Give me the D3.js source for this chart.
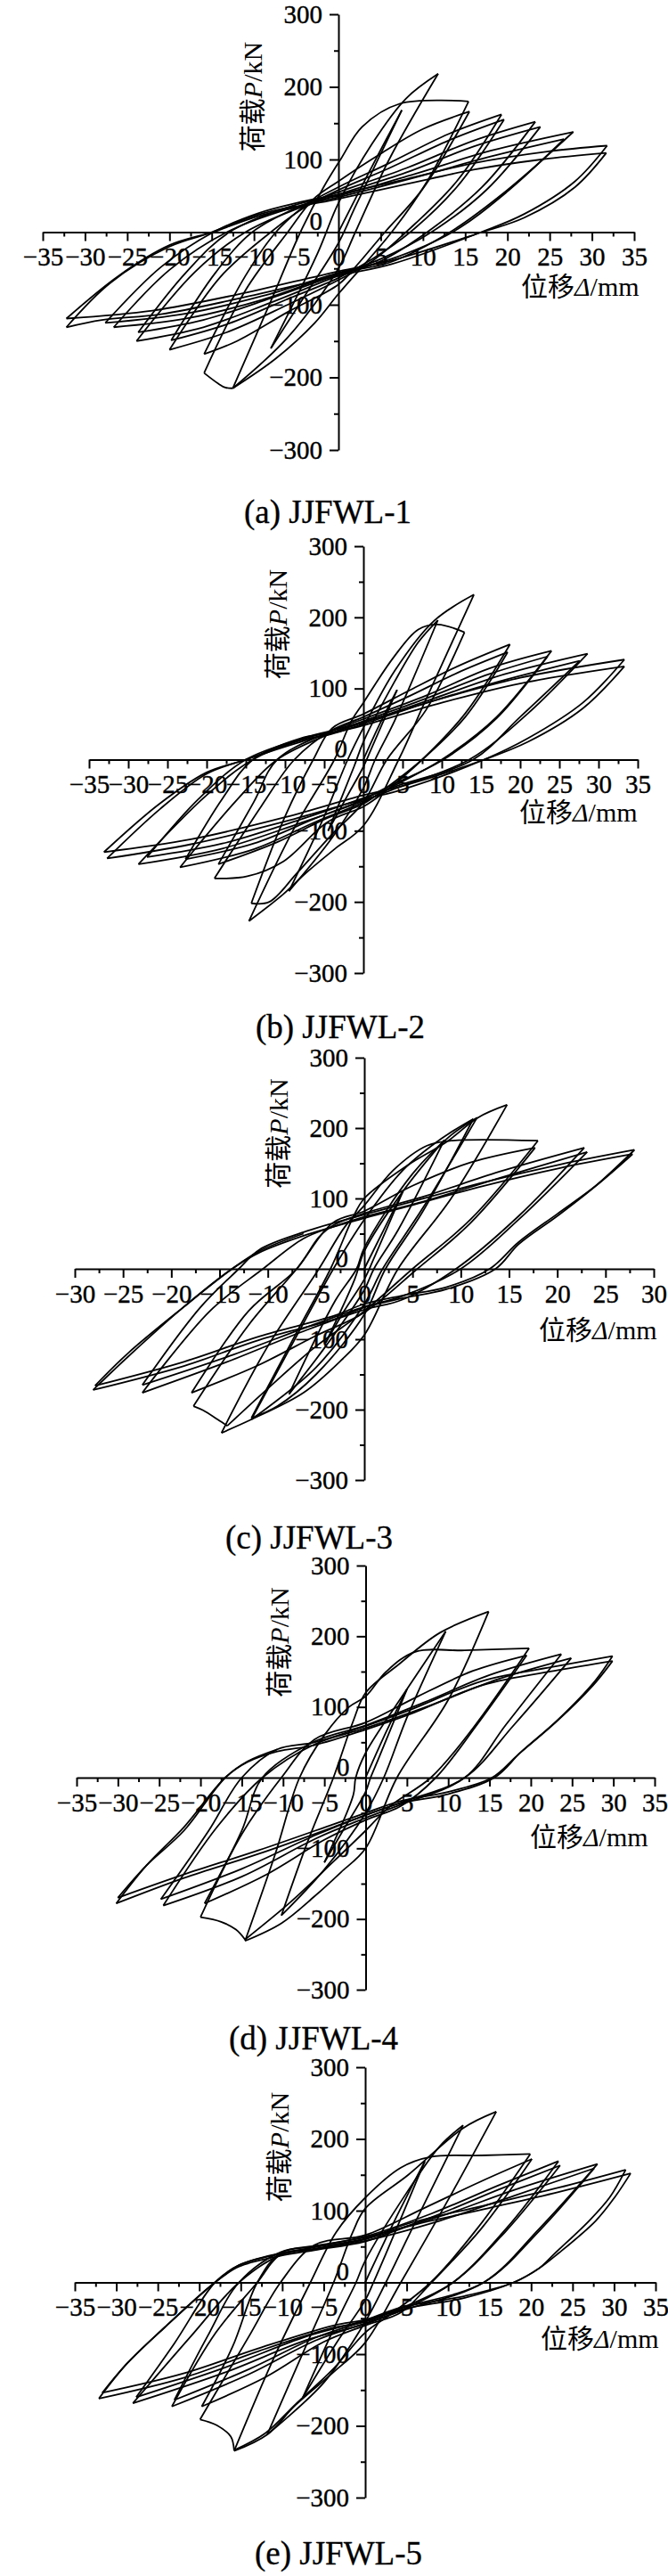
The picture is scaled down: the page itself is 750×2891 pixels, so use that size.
<!DOCTYPE html>
<html>
<head>
<meta charset="utf-8">
<script src="https://d3js.org/d3.v7.min.js"></script>
<style>
  body { margin: 0; background: #fff; }
  svg { font-family: 'Liberation Serif', 'Times New Roman', 'Noto Sans CJK SC', serif; }
  .loop { fill: none; stroke: #000; stroke-width: 1.8px; stroke-linejoin: round; }
  .axis path, .axis line { stroke: #000; stroke-width: 2px; }
  .axis text { font-family: 'Liberation Serif', serif; font-size: 29px; fill: #000; stroke: #000; stroke-width: 0.4px; }
  .ttl { font-size: 30px; fill: #000; }
  .cap { font-size: 37px; fill: #000; stroke: #000; stroke-width: 0.3px; }
</style>
</head>
<body>
<svg width="750" height="2891"></svg>
<script>
// tick values
const yTicks = [-300, -200, -100, 0, 100, 200, 300];
const yMinor = [-250, -150, -50, 50, 150, 250];
const xTicks35 = [-35, -30, -25, -20, -15, -10, -5, 0, 5, 10, 15, 20, 25, 30, 35];
const xMinor35 = [-32.5, -27.5, -22.5, -17.5, -12.5, -7.5, -2.5, 2.5, 7.5, 12.5, 17.5, 22.5, 27.5, 32.5];
const xTicks30 = [-30, -25, -20, -15, -10, -5, 0, 5, 10, 15, 20, 25, 30];
const xMinor30 = [-27.5, -22.5, -17.5, -12.5, -7.5, -2.5, 2.5, 7.5, 12.5, 17.5, 22.5, 27.5];
const captions = ["(a) JJFWL-1", "(b) JJFWL-2", "(c) JJFWL-3", "(d) JJFWL-4", "(e) JJFWL-5"];

// hysteresis branches [displacement mm, load kN], peak to peak
const loopsA = [
  [[0,0],[3.5,80],[7.5,168]],
  [[7.5,168],[2,35],[0,-15],[-4,-88],[-8,-160]],
  [[-8,-160],[-2.5,-30],[0,40],[4,122],[8,184],[11.8,218]],
  [[11.8,218],[6,100],[2,0],[0,-50],[-6,-145],[-12.5,-215]],
  [[-12.5,-215],[-8,-95],[-4.5,0],[-1.8,61],[0.3,101],[2.8,145],[7.3,177],[15.4,180]],
  [[15.4,180],[10.5,70],[6.3,0],[0,-85],[-2.8,-125],[-7.4,-174],[-12.5,-215]],
  [[-12.5,-215],[-13.4,-214],[-14.3,-208],[-15.9,-194]],
  [[-15.9,-194],[-11,-80],[-6,0],[-3,45],[0,70],[5,108],[10,142],[15.5,166]],
  [[15.5,166],[10,60],[5.5,0],[2,-48],[0,-72],[-6,-110],[-12,-150],[-15.9,-168]],
  [[-15.9,-168],[-11,-60],[-7.4,0],[-4,36],[0,62],[6,95],[13,135],[19.3,162]],
  [[19.3,162],[14,70],[8,0],[4,-40],[0,-66],[-6,-100],[-13,-137],[-20,-162]],
  [[-20,-162],[-14,-62],[-8,0],[-4,34],[0,58],[6,88],[13,126],[19.6,155]],
  [[19.6,155],[14,62],[8.5,0],[4,-37],[0,-63],[-6,-92],[-13,-126],[-19.8,-149]],
  [[-19.8,-149],[-14.5,-55],[-10.2,0],[-4.5,36],[0,55],[8,88],[16,126],[23.3,152]],
  [[23.3,152],[17,62],[10.5,0],[5,-40],[0,-60],[-8,-97],[-16,-131],[-23.9,-150]],
  [[-23.9,-150],[-17,-55],[-11,0],[-4.5,34],[0,52],[8,82],[16,118],[23.9,145]],
  [[23.9,145],[17.5,58],[11,0],[5,-37],[0,-58],[-8,-91],[-16,-121],[-23.7,-138]],
  [[-23.7,-138],[-18,-55],[-12.9,0],[-5,38],[0,50],[9,80],[18,112],[27.8,138]],
  [[27.8,138],[20,58],[13.2,0],[6,-42],[0,-57],[-9,-93],[-18,-119],[-26.6,-131]],
  [[-26.6,-131],[-20,-52],[-13.2,0],[-5,35],[0,48],[9,75],[18,104],[26.7,128]],
  [[26.7,128],[20,56],[13.5,0],[6,-38],[0,-56],[-9,-88],[-18,-112],[-27.6,-125]],
  [[-27.6,-125],[-21,-48],[-14.8,0],[-9.5,26],[-5,40],[0,52],[8,73],[16,95],[24.7,111],[31.8,119]],
  [[31.8,119],[28,70],[22,25],[16.9,0],[6.3,-44],[0,-60],[-12,-92],[-21,-113],[-28,-121],[-32.2,-131]],
  [[-32.2,-131],[-27,-70],[-20,-20],[-14.8,0],[-9.5,22],[-5,34],[0,46],[8,66],[16,86],[24,100],[31.7,109]],
  [[31.7,109],[28,62],[22,20],[17,0],[6,-40],[0,-54],[-12,-86],[-22,-108],[-32.2,-119]],
  [[-32.2,-119],[-26,-60],[-20,-18],[-15,0],[-9.5,24],[-5,36]]
];

const loopsB = [
  [[0,0],[2,48],[4.3,98]],
  [[4.3,98],[1,15],[0,-10],[-2,-50],[-4.5,-100]],
  [[-4.5,-100],[-1.2,-10],[0,25],[4,110],[7,165],[9.5,196]],
  [[9.5,196],[4,55],[1.5,0],[0,-40],[-4,-110],[-9.5,-185]],
  [[-9.5,-185],[-5,-80],[-2,0],[0,45],[4,125],[9,195],[14.1,232]],
  [[14.1,232],[8,85],[4.5,0],[0,-93],[-3.7,-126],[-7.4,-160],[-10.2,-189],[-14.6,-227]],
  [[-14.6,-227],[-9,-100],[-3.7,0],[-1.5,55],[0,80],[3.8,143],[7,183],[9.5,190],[12.9,179]],
  [[12.9,179],[8,70],[3,0],[0,-60],[-4,-105],[-8.5,-160],[-12,-200],[-14.3,-202]],
  [[-14.3,-202],[-10,-80],[-6.4,0],[-4,44],[0,64],[6,98],[12,131],[18.7,162]],
  [[18.7,162],[13,65],[7.5,0],[2.4,-48],[0,-66],[-4.6,-88],[-10.2,-143],[-14.8,-164],[-19,-167]],
  [[-19,-167],[-13,-65],[-8.8,0],[-4.1,41],[0,60],[6,90],[12,122],[18.4,151]],
  [[18.4,151],[13,60],[7.5,0],[2.4,-44],[0,-62],[-5,-84],[-11,-116],[-18.5,-147]],
  [[-18.5,-147],[-14,-60],[-11,0],[-4.1,40],[0,57],[8,90],[16,128],[24,153]],
  [[24,153],[17,60],[10,0],[3,-42],[0,-60],[-6,-87],[-14,-126],[-23.4,-151.5]],
  [[-23.4,-151.5],[-16,-55],[-11,0],[-4.1,37],[0,54],[8,86],[16,120],[23.5,145]],
  [[23.5,145],[17,58],[10.2,0],[3,-39],[0,-56],[-6,-82],[-14,-118],[-22.7,-140]],
  [[-22.7,-140],[-18,-55],[-14.1,0],[-8,30],[-4.1,38],[0,52],[9,86],[18,120],[28.6,149]],
  [[28.6,149],[21,65],[13.5,0],[4,-41],[0,-58],[-8,-89],[-18,-125],[-28.7,-147]],
  [[-28.7,-147],[-20,-50],[-14.1,0],[-8,27],[-4.1,36],[0,50],[9,83],[18,112],[27.6,139]],
  [[27.6,139],[20,60],[14,0],[4,-38],[0,-54],[-8,-84],[-18,-118],[-27.6,-137]],
  [[-27.6,-137],[-21,-55],[-15,0],[-8,29],[-4,41],[0,53],[10,86],[20,115],[33.3,140.6]],
  [[33.3,140.6],[28,80],[21,30],[15.4,0],[5,-42],[0,-56],[-10,-87],[-22,-119],[-32.7,-139]],
  [[-32.7,-139],[-26,-70],[-20,-20],[-15,0],[-8,25],[-4,37],[0,48],[10,80],[20,107],[33.3,131]],
  [[33.3,131],[28,72],[21,25],[15.4,0],[5,-37],[0,-50],[-10,-81],[-22,-112],[-33.1,-130]],
  [[-33.1,-130],[-26,-62],[-20,-18],[-15,0],[-8,28],[-4,40]]
];

const loopsC = [
  [[0,0],[2,55],[4,110]],
  [[4,110],[1,15],[0,-15],[-2,-58],[-4,-105]],
  [[-4,-105],[-1,-15],[0,25],[4,110],[8.3,183]],
  [[8.3,183],[3.5,55],[1,0],[0,-30],[-4,-110],[-7.8,-178]],
  [[-7.8,-178],[-3,-45],[-0.8,0],[0,30],[5,135],[9,190],[11.7,215]],
  [[11.7,215],[6,85],[1.9,0],[0,-50],[-5,-140],[-11.7,-214]],
  [[-11.7,-214],[-7,-95],[-3.2,0],[0,70],[4,140],[8,185],[11.3,213]],
  [[11.3,213],[6,80],[2.2,0],[0,-65],[-5,-150],[-9,-195],[-11.7,-212]],
  [[-11.7,-212],[-7,-90],[-3.5,0],[-1.1,75],[0,100],[4.6,148],[8.5,180],[11.8,215],[14.8,233]],
  [[14.8,233],[9,100],[3.5,0],[0,-94],[-2.4,-130],[-6.3,-176],[-11.7,-214],[-14.8,-233]],
  [[-14.8,-233],[-10,-110],[-4.7,0],[-2,60],[0,90],[3,140],[6.5,175],[9,182],[18,182]],
  [[18,182],[11,70],[5,0],[0,-60],[-5,-110],[-10,-170],[-14.2,-223]],
  [[-14.2,-223],[-15.2,-214],[-16.7,-201],[-17.7,-195]],
  [[-17.7,-195],[-12,-80],[-7,0],[-3.2,66],[0,82],[5,118],[11,151],[17.7,172]],
  [[17.7,172],[11,65],[5.5,0],[0,-62],[-5,-95],[-11,-137],[-17.9,-176]],
  [[-17.9,-176],[-12,-60],[-7,0],[-4.7,45],[-3.2,62],[0,79],[6,102],[14,138],[22.8,172]],
  [[22.8,172],[16,75],[9.5,0],[3.9,-44],[0,-58],[-6,-87],[-14,-131],[-23,-176]],
  [[-23,-176],[-16,-60],[-10.5,0],[-6.3,43],[-3.2,60],[0,74],[6,95],[14,129],[23.1,166]],
  [[23.1,166],[16,70],[10,0],[3.9,-39],[0,-54],[-6,-83],[-14,-124],[-23,-165]],
  [[-23,-165],[-17,-55],[-13,0],[-10.9,27],[-6.3,52],[0,77],[4.6,94],[12.4,123],[20.2,148],[28,169]],
  [[28,169],[24,118],[20,75],[16,35],[13.6,0],[8.5,-29],[3.9,-42],[0,-55],[-3.2,-72],[-10.9,-101],[-18.7,-138],[-28.1,-172]],
  [[-28.1,-172],[-24.5,-125],[-18.7,-54],[-13.7,0],[-10.9,23],[-6.3,47],[0,72],[4.6,89],[12.4,118],[20.2,143],[27.8,163]],
  [[27.8,163],[24,118],[20,78],[16,38],[13,0],[8.5,-26],[3.9,-38],[0,-50],[-3.2,-67],[-10.9,-96],[-18.7,-132],[-27.9,-166]],
  [[-27.9,-166],[-24.5,-120],[-18.7,-54],[-13.7,0],[-10.9,25],[-6.3,50]]
];

const loopsD = [
  [[0,0],[2.5,65],[5,125]],
  [[5,125],[1.5,25],[0.6,0],[0,-20],[-2.5,-70],[-5,-120]],
  [[-5,-120],[-1.5,-25],[-1.2,0],[0,35],[5,125],[9.7,207]],
  [[9.7,207],[5,85],[2.2,0],[0,-50],[-5,-130],[-10.2,-195]],
  [[-10.2,-195],[-7,-90],[-3.9,0],[-1.5,80],[0,120],[4,160],[9,205],[14.9,235]],
  [[14.9,235],[10,110],[3.8,0],[0,-100],[-3,-134],[-6.2,-168],[-10.2,-206],[-14.6,-231]],
  [[-14.6,-231],[-11,-110],[-8,0],[-5,60],[-2,100],[0,115],[2.5,150],[6,178],[12,180],[19.8,183]],
  [[19.8,183],[13,70],[7.9,0],[3,-40],[0,-75],[-4,-120],[-9,-175],[-14.6,-229]],
  [[-14.6,-229],[-15.7,-215],[-17.5,-204],[-20,-197.5]],
  [[-20,-197.5],[-15,-80],[-10.2,0],[-6.2,54],[0,78],[6,113],[13,151],[19.5,173]],
  [[19.5,173],[13.5,75],[8.5,0],[4.3,-40],[0,-60],[-5,-88],[-12,-137],[-19.5,-178]],
  [[-19.5,-178],[-15,-75],[-12.5,0],[-6.2,51],[0,74],[7,106],[15,145],[23.7,174.6]],
  [[23.7,174.6],[17,75],[12,0],[4.3,-38],[0,-57],[-6,-86],[-15,-140],[-24.5,-181]],
  [[-24.5,-181],[-18,-70],[-12.5,0],[-6.2,47],[0,70],[8,103],[16,139],[24.9,169]],
  [[24.9,169],[18,75],[12,0],[4.3,-35],[0,-53],[-6,-81],[-15,-129],[-24.8,-172]],
  [[-24.8,-172],[-19,-75],[-15,0],[-10.7,40],[-6.2,50],[0,73],[5.2,95],[14.2,137],[23.3,158],[29.9,172]],
  [[29.9,172],[27.8,137],[23.3,82],[18.8,36],[15.6,0],[9.7,-24],[4.3,-36],[0,-53],[-3.9,-70],[-13,-108],[-22,-142],[-30.2,-178]],
  [[-30.2,-178],[-26.6,-125],[-22,-70],[-17,0],[-14.3,22],[-10.7,37],[-6.2,46],[0,68],[5.2,89],[14.2,131],[23.3,152],[29.9,165]],
  [[29.9,165],[27.5,130],[23,78],[18.5,33],[15.3,0],[9.7,-21],[4.3,-33],[0,-50],[-3.9,-66],[-13,-103],[-22,-137],[-30,-170]],
  [[-30,-170],[-26.6,-125],[-22,-75],[-17,0],[-14.3,23],[-10.7,40]]
];

const loopsE = [
  [[0,0],[3.5,85],[7.2,169]],
  [[7.2,169],[2.5,40],[1,0],[0,-25],[-3.5,-85],[-7.5,-160]],
  [[-7.5,-160],[-3,-45],[-1.1,0],[0,30],[5,125],[9,190],[11.8,219]],
  [[11.8,219],[6.5,95],[2.5,0],[0,-55],[-5,-140],[-11.8,-212]],
  [[-11.8,-212],[-7,-85],[-3.8,0],[-1.5,70],[0,103],[5.2,150],[11.8,215],[15.8,238]],
  [[15.8,238],[10,115],[4.3,0],[0,-84],[-3.8,-125],[-8.4,-171],[-11.8,-212],[-15.8,-235]],
  [[-15.8,-235],[-11,-105],[-6.6,0],[-3.5,70],[0,118],[4.3,160],[7.9,175],[14,177],[19.9,179]],
  [[19.9,179],[13.5,75],[7.9,0],[3,-45],[0,-70],[-3.8,-120],[-8.4,-170],[-12,-210],[-15.8,-234]],
  [[-15.8,-234],[-16.2,-215],[-17.9,-199],[-19.9,-191]],
  [[-19.9,-191],[-14,-75],[-10.2,0],[-6.1,52],[0,66],[7,103],[14,141],[20.1,172]],
  [[20.1,172],[14,75],[8,0],[4.3,-42],[0,-60],[-5,-83],[-12,-132],[-19.7,-173]],
  [[-19.7,-173],[-16,-90],[-13,0],[-10.2,41],[-6.1,50],[0,64],[8,96],[16,135],[23.3,169]],
  [[23.3,169],[17,75],[10.6,0],[4.3,-39],[0,-57],[-6,-81],[-14,-128],[-23.3,-173]],
  [[-23.3,-173],[-18,-70],[-13,0],[-10.2,39],[-6.1,47],[0,60],[8,91],[16,129],[23.5,163]],
  [[23.5,163],[17,72],[10.6,0],[4.3,-36],[0,-54],[-6,-77],[-14,-121],[-23,-164]],
  [[-23,-164],[-19,-75],[-15.2,0],[-10.2,42],[-6.1,51],[0,63],[9,92],[18,129],[28,165]],
  [[28,165],[21,75],[14.3,0],[4.3,-40],[0,-58],[-7,-80],[-17,-126],[-28,-168.5]],
  [[-28,-168.5],[-21,-75],[-15.2,0],[-10.2,38],[-6.1,46],[0,58],[9,86],[18,121],[27.6,159]],
  [[27.6,159],[21,72],[14.3,0],[4.3,-36],[0,-53],[-7,-75],[-17,-119],[-27.6,-160]],
  [[-27.6,-160],[-23,-85],[-18.1,0],[-15.2,24],[-10.2,40.6],[-6.1,48.9],[0,61],[5.2,82],[14.3,107],[23.3,132],[31.4,157]],
  [[31.4,157],[29.5,119],[27,86],[23,42],[21,20],[17.9,0],[12,-21.5],[4.3,-38],[0,-55],[-3.8,-63],[-12.9,-96],[-21.9,-133],[-32.1,-162]],
  [[-32.1,-162],[-28.7,-113],[-24.2,-63],[-18.1,0],[-15.2,22],[-10.2,37],[-6.1,45],[0,57],[5.2,78],[14.3,102],[23.3,126],[32,152]],
  [[32,152],[30.1,119],[27.8,86],[23.3,40.6],[21,20],[17.9,0],[12,-19],[4.3,-35],[0,-52],[-3.8,-60],[-12.9,-92],[-21.9,-127],[-31.7,-154]],
  [[-31.7,-154],[-28.7,-113],[-24.2,-63],[-18.1,0],[-15.2,24],[-10.2,40]]
];

// layout of the five stacked panels
const panels = [
  { loops: loopsA, xt: xTicks35, xm: xMinor35, xr: [48, 712],  yr: [505, 16],    cap: captions[0], capX: 368, capY: 587,  titleX: 585, titleDy: 71 },
  { loops: loopsB, xt: xTicks35, xm: xMinor35, xr: [100, 716], yr: [1092, 613],  cap: captions[1], capX: 382, capY: 1165, titleX: 583, titleDy: 69 },
  { loops: loopsC, xt: xTicks30, xm: xMinor30, xr: [84, 734],  yr: [1661, 1187], cap: captions[2], capX: 347, capY: 1738, titleX: 605, titleDy: 79 },
  { loops: loopsD, xt: xTicks35, xm: xMinor35, xr: [86, 735],  yr: [2233, 1757], cap: captions[3], capX: 352, capY: 2300, titleX: 595, titleDy: 77 },
  { loops: loopsE, xt: xTicks35, xm: xMinor35, xr: [84, 736],  yr: [2803, 2320], cap: captions[4], capX: 380, capY: 2878, titleX: 607, titleDy: 73 }
];

const svg = d3.select("svg");

panels.forEach(function (p) {
  const xMax = p.xt[p.xt.length - 1];
  const x = d3.scaleLinear().domain([-xMax, xMax]).range(p.xr);
  const y = d3.scaleLinear().domain([-300, 300]).range(p.yr);
  const g = svg.append("g");

  const line = d3.line()
    .x(function (d) { return x(d[0]); })
    .y(function (d) { return y(d[1]); })
    .curve(d3.curveCatmullRom.alpha(0.5));

  g.selectAll("path.loop")
    .data(p.loops)
    .enter()
    .append("path")
    .attr("class", "loop")
    .attr("d", line);

  // x axis through P = 0
  const gx = g.append("g").attr("class", "axis").attr("transform", "translate(0," + y(0) + ")");
  gx.call(d3.axisBottom(x).tickValues(p.xt).tickSize(10).tickSizeOuter(0).tickPadding(7).tickFormat(d3.format("d")));
  gx.append("g").call(d3.axisBottom(x).tickValues(p.xm).tickSize(5).tickFormat(""))
    .select(".domain").remove();

  // y axis through displacement = 0
  const gy = g.append("g").attr("class", "axis").attr("transform", "translate(" + x(0) + ",0)");
  gy.call(d3.axisLeft(y).tickValues(yTicks).tickSize(10).tickSizeOuter(0).tickPadding(8).tickFormat(d3.format("d")));
  gy.append("g").call(d3.axisLeft(y).tickValues(yMinor).tickSize(5).tickFormat(""))
    .select(".domain").remove();
  gy.selectAll(".tick text").filter(function (d) { return d === 0; }).attr("y", -12);

  // axis titles
  const yt = g.append("text")
    .attr("class", "ttl")
    .attr("text-anchor", "middle")
    .attr("dy", "0.35em")
    .attr("transform", "translate(" + (x(0) - 97) + "," + (y(0) - 152) + ") rotate(-90)");
  yt.append("tspan").text("荷载");
  yt.append("tspan").attr("font-style", "italic").text("P");
  yt.append("tspan").text("/kN");

  const xt = g.append("text")
    .attr("class", "ttl")
    .attr("x", p.titleX)
    .attr("y", y(0) + p.titleDy);
  xt.append("tspan").text("位移");
  xt.append("tspan").attr("font-style", "italic").text("Δ");
  xt.append("tspan").text("/mm");

  g.append("text")
    .attr("class", "cap")
    .attr("text-anchor", "middle")
    .attr("x", p.capX)
    .attr("y", p.capY)
    .text(p.cap);
});
</script>
</body>
</html>
